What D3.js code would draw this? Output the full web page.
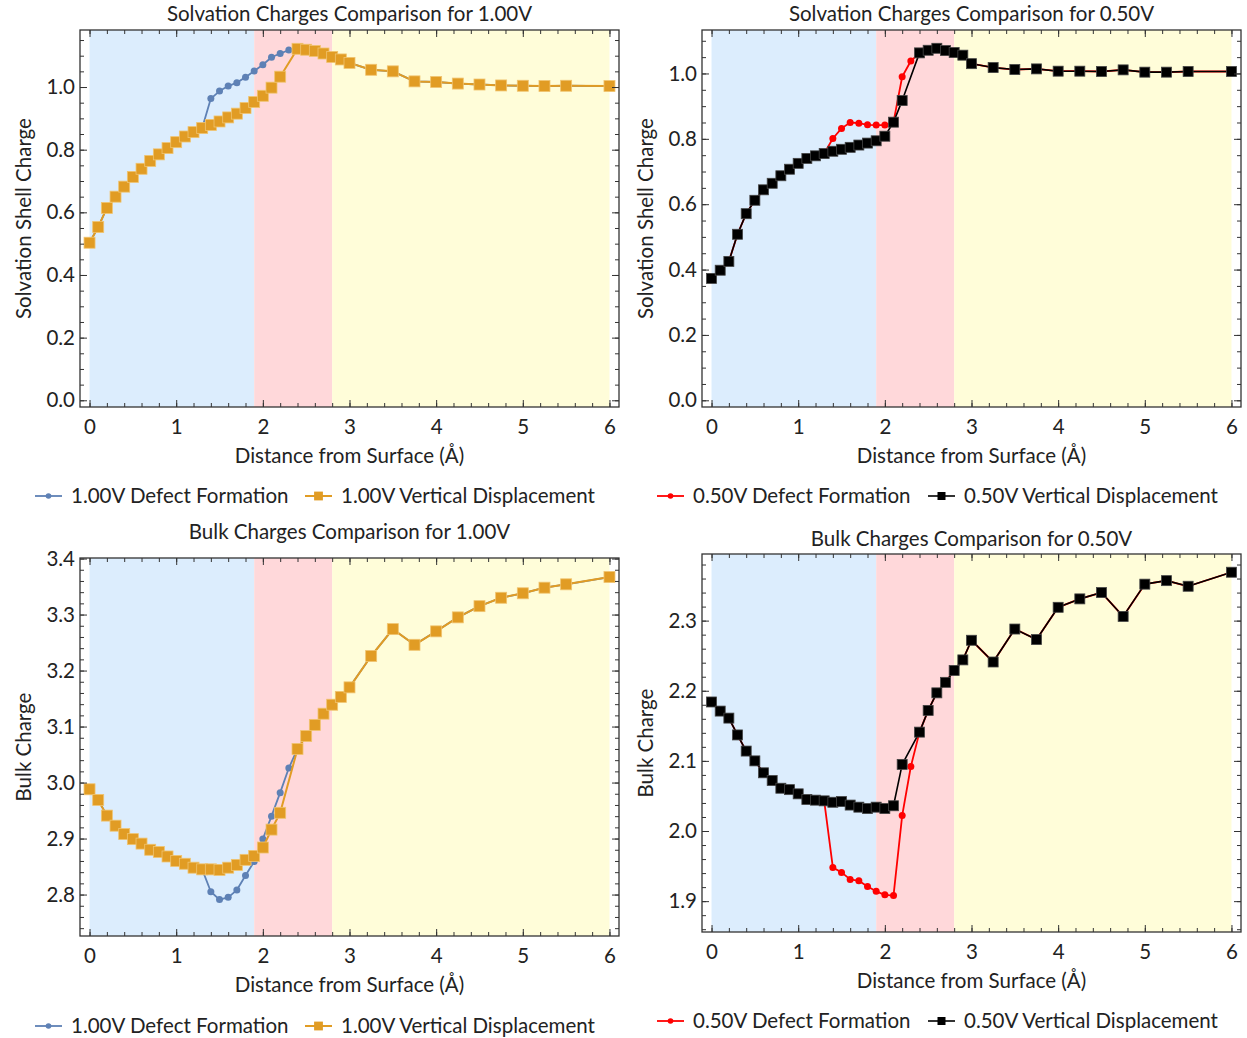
<!DOCTYPE html>
<html><head><meta charset="utf-8">
<script src="https://cdn.jsdelivr.net/npm/d3@7"></script>
<style>body{margin:0;background:#fff;} svg{display:block;} text{font-family:Lato, "Open Sans", sans-serif; fill:#222;}</style>
</head><body>
<svg id="chart" width="1247" height="1038"></svg>
<script>
// ---------- data ----------
const xVD = [0,0.1,0.2,0.3,0.4,0.5,0.6,0.7,0.8,0.9,1.0,1.1,1.2,1.3,1.4,1.5,1.6,1.7,1.8,1.9,2.0,2.1,2.2,
             2.4,2.5,2.6,2.7,2.8,2.9,3.0,3.25,3.5,3.75,4.0,4.25,4.5,4.75,5.0,5.25,5.5,6.0];
const xDF = [0,0.1,0.2,0.3,0.4,0.5,0.6,0.7,0.8,0.9,1.0,1.1,1.2,1.3,1.4,1.5,1.6,1.7,1.8,1.9,2.0,2.1,2.2,2.3,
             2.4,2.5,2.6,2.7,2.8,2.9,3.0,3.25,3.5,3.75,4.0,4.25,4.5,4.75,5.0,5.25,5.5,6.0];

const solv100VD = [0.503,0.553,0.614,0.650,0.682,0.713,0.739,0.764,0.785,0.805,0.824,0.842,0.856,0.869,0.879,0.890,0.903,0.915,0.933,0.952,0.972,0.998,1.033,
                   1.122,1.119,1.115,1.107,1.096,1.088,1.077,1.055,1.050,1.018,1.016,1.011,1.008,1.005,1.004,1.003,1.004,1.003];
const solv100DF = [0.503,0.553,0.614,0.650,0.682,0.713,0.739,0.764,0.785,0.805,0.824,0.842,0.856,0.869,
                   0.963,0.987,1.003,1.014,1.031,1.051,1.071,1.095,1.107,1.118,
                   1.122,1.119,1.115,1.107,1.096,1.088,1.077,1.055,1.050,1.018,1.016,1.011,1.008,1.005,1.004,1.003,1.004,1.003];

const solv050VD = [0.373,0.398,0.425,0.508,0.571,0.612,0.644,0.664,0.687,0.707,0.725,0.740,0.748,0.755,0.762,0.768,0.774,0.781,0.787,0.794,0.808,0.851,0.917,
                   1.063,1.071,1.077,1.070,1.064,1.056,1.030,1.018,1.012,1.014,1.007,1.007,1.006,1.011,1.004,1.004,1.006,1.006];
const solv050DF = [0.373,0.398,0.425,0.508,0.571,0.612,0.644,0.664,0.687,0.707,0.725,0.740,0.748,0.755,
                   0.801,0.832,0.850,0.848,0.843,0.842,0.842,0.851,0.990,1.038,
                   1.063,1.071,1.077,1.070,1.064,1.056,1.030,1.018,1.012,1.014,1.007,1.007,1.006,1.011,1.004,1.004,1.006,1.006];

const bulk100VD = [2.988,2.969,2.941,2.923,2.908,2.899,2.891,2.880,2.876,2.868,2.860,2.855,2.848,2.845,2.845,2.844,2.848,2.853,2.862,2.869,2.884,2.916,2.946,
                   3.060,3.083,3.103,3.123,3.139,3.153,3.170,3.226,3.274,3.246,3.270,3.295,3.315,3.330,3.338,3.348,3.354,3.367];
const bulk100DF = [2.988,2.969,2.941,2.923,2.908,2.899,2.891,2.880,2.876,2.868,2.860,2.855,2.848,2.845,
                   2.805,2.791,2.795,2.808,2.834,2.859,2.899,2.940,2.982,3.026,
                   3.060,3.083,3.103,3.123,3.139,3.153,3.170,3.226,3.274,3.246,3.270,3.295,3.315,3.330,3.338,3.348,3.354,3.367];

const bulk050VD = [2.184,2.171,2.161,2.137,2.114,2.100,2.083,2.072,2.061,2.059,2.053,2.045,2.044,2.043,2.041,2.042,2.037,2.034,2.032,2.034,2.032,2.036,2.095,
                   2.141,2.172,2.197,2.212,2.229,2.244,2.272,2.241,2.288,2.273,2.319,2.331,2.340,2.306,2.352,2.357,2.349,2.369];
const bulk050DF = [2.184,2.171,2.161,2.137,2.114,2.100,2.083,2.072,2.061,2.059,2.053,2.045,2.044,2.043,
                   1.948,1.941,1.931,1.929,1.921,1.914,1.909,1.908,2.022,2.092,
                   2.141,2.172,2.197,2.212,2.229,2.244,2.272,2.241,2.288,2.273,2.319,2.331,2.340,2.306,2.352,2.357,2.349,2.369];

const regions = [[0,1.9],[1.9,2.8],[2.8,6.0]];
const xTicks = [0,1,2,3,4,5,6];
const solvTicks = [0.0,0.2,0.4,0.6,0.8,1.0];
const bulk100Ticks = [2.8,2.9,3.0,3.1,3.2,3.3,3.4];
const bulk050Ticks = [1.9,2.0,2.1,2.2,2.3];
const titles = ["Solvation Charges Comparison for 1.00V","Solvation Charges Comparison for 0.50V",
                "Bulk Charges Comparison for 1.00V","Bulk Charges Comparison for 0.50V"];
const legend100 = ["1.00V Defect Formation","1.00V Vertical Displacement"];
const legend050 = ["0.50V Defect Formation","0.50V Vertical Displacement"];

// ---------- drawing ----------
const svg = d3.select("#chart");
const regionColors = ["#dcedfd","#ffd8da","#fffdd9"];
const fs = 20.5;

function panel(o){
  const g = svg.append("g");
  const x = d3.scaleLinear().domain([-0.11,6.11]).range([o.left,o.right]);
  const y = d3.scaleLinear().domain(o.yDom).range([o.bottom,o.top]);
  regions.forEach((r,i)=>{
    g.append("rect").attr("x",x(r[0])).attr("width",x(r[1])-x(r[0]))
     .attr("y",o.top).attr("height",o.bottom-o.top).attr("fill",regionColors[i]);
  });
  const line = d3.line().x(d=>x(d[0])).y(d=>y(d[1]));
  o.series.forEach(s=>{
    const pts = s.xs.map((v,i)=>[v,s.ys[i]]);
    g.append("path").datum(pts).attr("d",line).attr("fill","none")
     .attr("stroke",s.color).attr("stroke-width",s.lw).attr("stroke-linejoin","round");
    if(s.shape==="circle"){
      g.selectAll(null).data(pts).enter().append("circle")
       .attr("cx",d=>x(d[0])).attr("cy",d=>y(d[1])).attr("r",s.size)
       .attr("fill",s.color);
    } else {
      g.selectAll(null).data(pts).enter().append("rect")
       .attr("x",d=>x(d[0])-s.size/2).attr("y",d=>y(d[1])-s.size/2)
       .attr("width",s.size).attr("height",s.size)
       .attr("fill",s.color).attr("stroke",s.edge).attr("stroke-width",0.8);
    }
  });
  const frameColor = "#333";
  const xMinor = d3.range(0,6.0001,0.2);
  const yMinor = d3.range(Math.ceil(o.yDom[0]/o.yMinorStep)*o.yMinorStep, o.yDom[1]+1e-9, o.yMinorStep);
  const ax = (gen,tx,ty)=> g.append("g").attr("transform",`translate(${tx},${ty})`).call(gen);
  const styleAxis = sel=>{
    sel.select(".domain").remove();
    sel.selectAll("line").attr("stroke",frameColor).attr("stroke-width",1);
    sel.selectAll("text").style("font-size",fs+"px").style("font-family","Lato, sans-serif").attr("fill","#222");
  };
  styleAxis(ax(d3.axisBottom(x).tickValues(xMinor).tickSize(-4).tickFormat(""),0,o.bottom));
  styleAxis(ax(d3.axisBottom(x).tickValues(xTicks).tickSize(-7).tickPadding(12).tickFormat(d3.format("d")),0,o.bottom));
  styleAxis(ax(d3.axisTop(x).tickValues(xMinor).tickSize(-4).tickFormat(""),0,o.top));
  styleAxis(ax(d3.axisTop(x).tickValues(xTicks).tickSize(-7).tickFormat(""),0,o.top));
  styleAxis(ax(d3.axisLeft(y).tickValues(yMinor).tickSize(-4).tickFormat(""),o.left,0));
  styleAxis(ax(d3.axisLeft(y).tickValues(o.yTicks).tickSize(-7).tickPadding(5).tickFormat(d3.format(".1f")),o.left,0));
  styleAxis(ax(d3.axisRight(y).tickValues(yMinor).tickSize(-4).tickFormat(""),o.right,0));
  styleAxis(ax(d3.axisRight(y).tickValues(o.yTicks).tickSize(-7).tickFormat(""),o.right,0));
  g.append("rect").attr("x",o.left).attr("y",o.top).attr("width",o.right-o.left).attr("height",o.bottom-o.top)
   .attr("fill","none").attr("stroke",frameColor).attr("stroke-width",1.3);
  const cx = (o.left+o.right)/2;
  g.append("text").attr("x",cx).attr("y",o.titleY).attr("text-anchor","middle")
   .style("font-size",fs+"px").text(o.title);
  g.append("text").attr("x",cx).attr("y",o.bottom+56).attr("text-anchor","middle")
   .style("font-size",fs+"px").text("Distance from Surface (Å)");
  g.append("text").attr("transform",`translate(${o.left-56},${(o.top+o.bottom)/2}) rotate(-90)`)
   .attr("text-anchor","middle").attr("dy","0.35em").style("font-size",fs+"px").text(o.ylabel);
  o.series.forEach((s,i)=>{
    const lx = o.legX[i], ly = o.legY;
    g.append("line").attr("x1",lx).attr("x2",lx+27).attr("y1",ly).attr("y2",ly)
     .attr("stroke",s.color).attr("stroke-width",s.lw);
    if(s.shape==="circle") g.append("circle").attr("cx",lx+13.5).attr("cy",ly).attr("r",s.size*0.8).attr("fill",s.color);
    else g.append("rect").attr("x",lx+13.5-s.size*0.4).attr("y",ly-s.size*0.4).attr("width",s.size*0.8).attr("height",s.size*0.8).attr("fill",s.color);
    g.append("text").attr("x",lx+36).attr("y",ly).attr("dy","0.35em").style("font-size",fs+"px").text(o.legend[i]);
  });
}

const blue = "#5e81b5", orange = "#e19c24";
const s100 = (dfY,vdY)=>[
  {xs:xDF,ys:dfY,color:blue,lw:1.8,shape:"circle",size:3.5},
  {xs:xVD,ys:vdY,color:orange,lw:2,shape:"square",size:11,edge:"#f0c470"}];
const s050 = (dfY,vdY)=>[
  {xs:xDF,ys:dfY,color:"#ff0000",lw:1.8,shape:"circle",size:3.5},
  {xs:xVD,ys:vdY,color:"#000000",lw:1.6,shape:"square",size:10,edge:"#444"}];

panel({left:80,right:619,top:30,bottom:407,yDom:[-0.0214,1.182],yTicks:solvTicks,yMinorStep:0.05,
  title:titles[0],titleY:21,ylabel:"Solvation Shell Charge",series:s100(solv100DF,solv100VD),
  legend:legend100,legX:[35,305],legY:496});
panel({left:702,right:1241,top:30,bottom:407,yDom:[-0.0205,1.133],yTicks:solvTicks,yMinorStep:0.05,
  title:titles[1],titleY:21,ylabel:"Solvation Shell Charge",series:s050(solv050DF,solv050VD),
  legend:legend050,legX:[657,928],legY:496});
panel({left:80,right:619,top:558,bottom:936,yDom:[2.726,3.401],yTicks:bulk100Ticks,yMinorStep:0.02,
  title:titles[2],titleY:539,ylabel:"Bulk Charge",series:s100(bulk100DF,bulk100VD),
  legend:legend100,legX:[35,305],legY:1026});
panel({left:702,right:1241,top:554,bottom:932,yDom:[1.856,2.395],yTicks:bulk050Ticks,yMinorStep:0.02,
  title:titles[3],titleY:546,ylabel:"Bulk Charge",series:s050(bulk050DF,bulk050VD),
  legend:legend050,legX:[657,928],legY:1021});
</script>
</body></html>
